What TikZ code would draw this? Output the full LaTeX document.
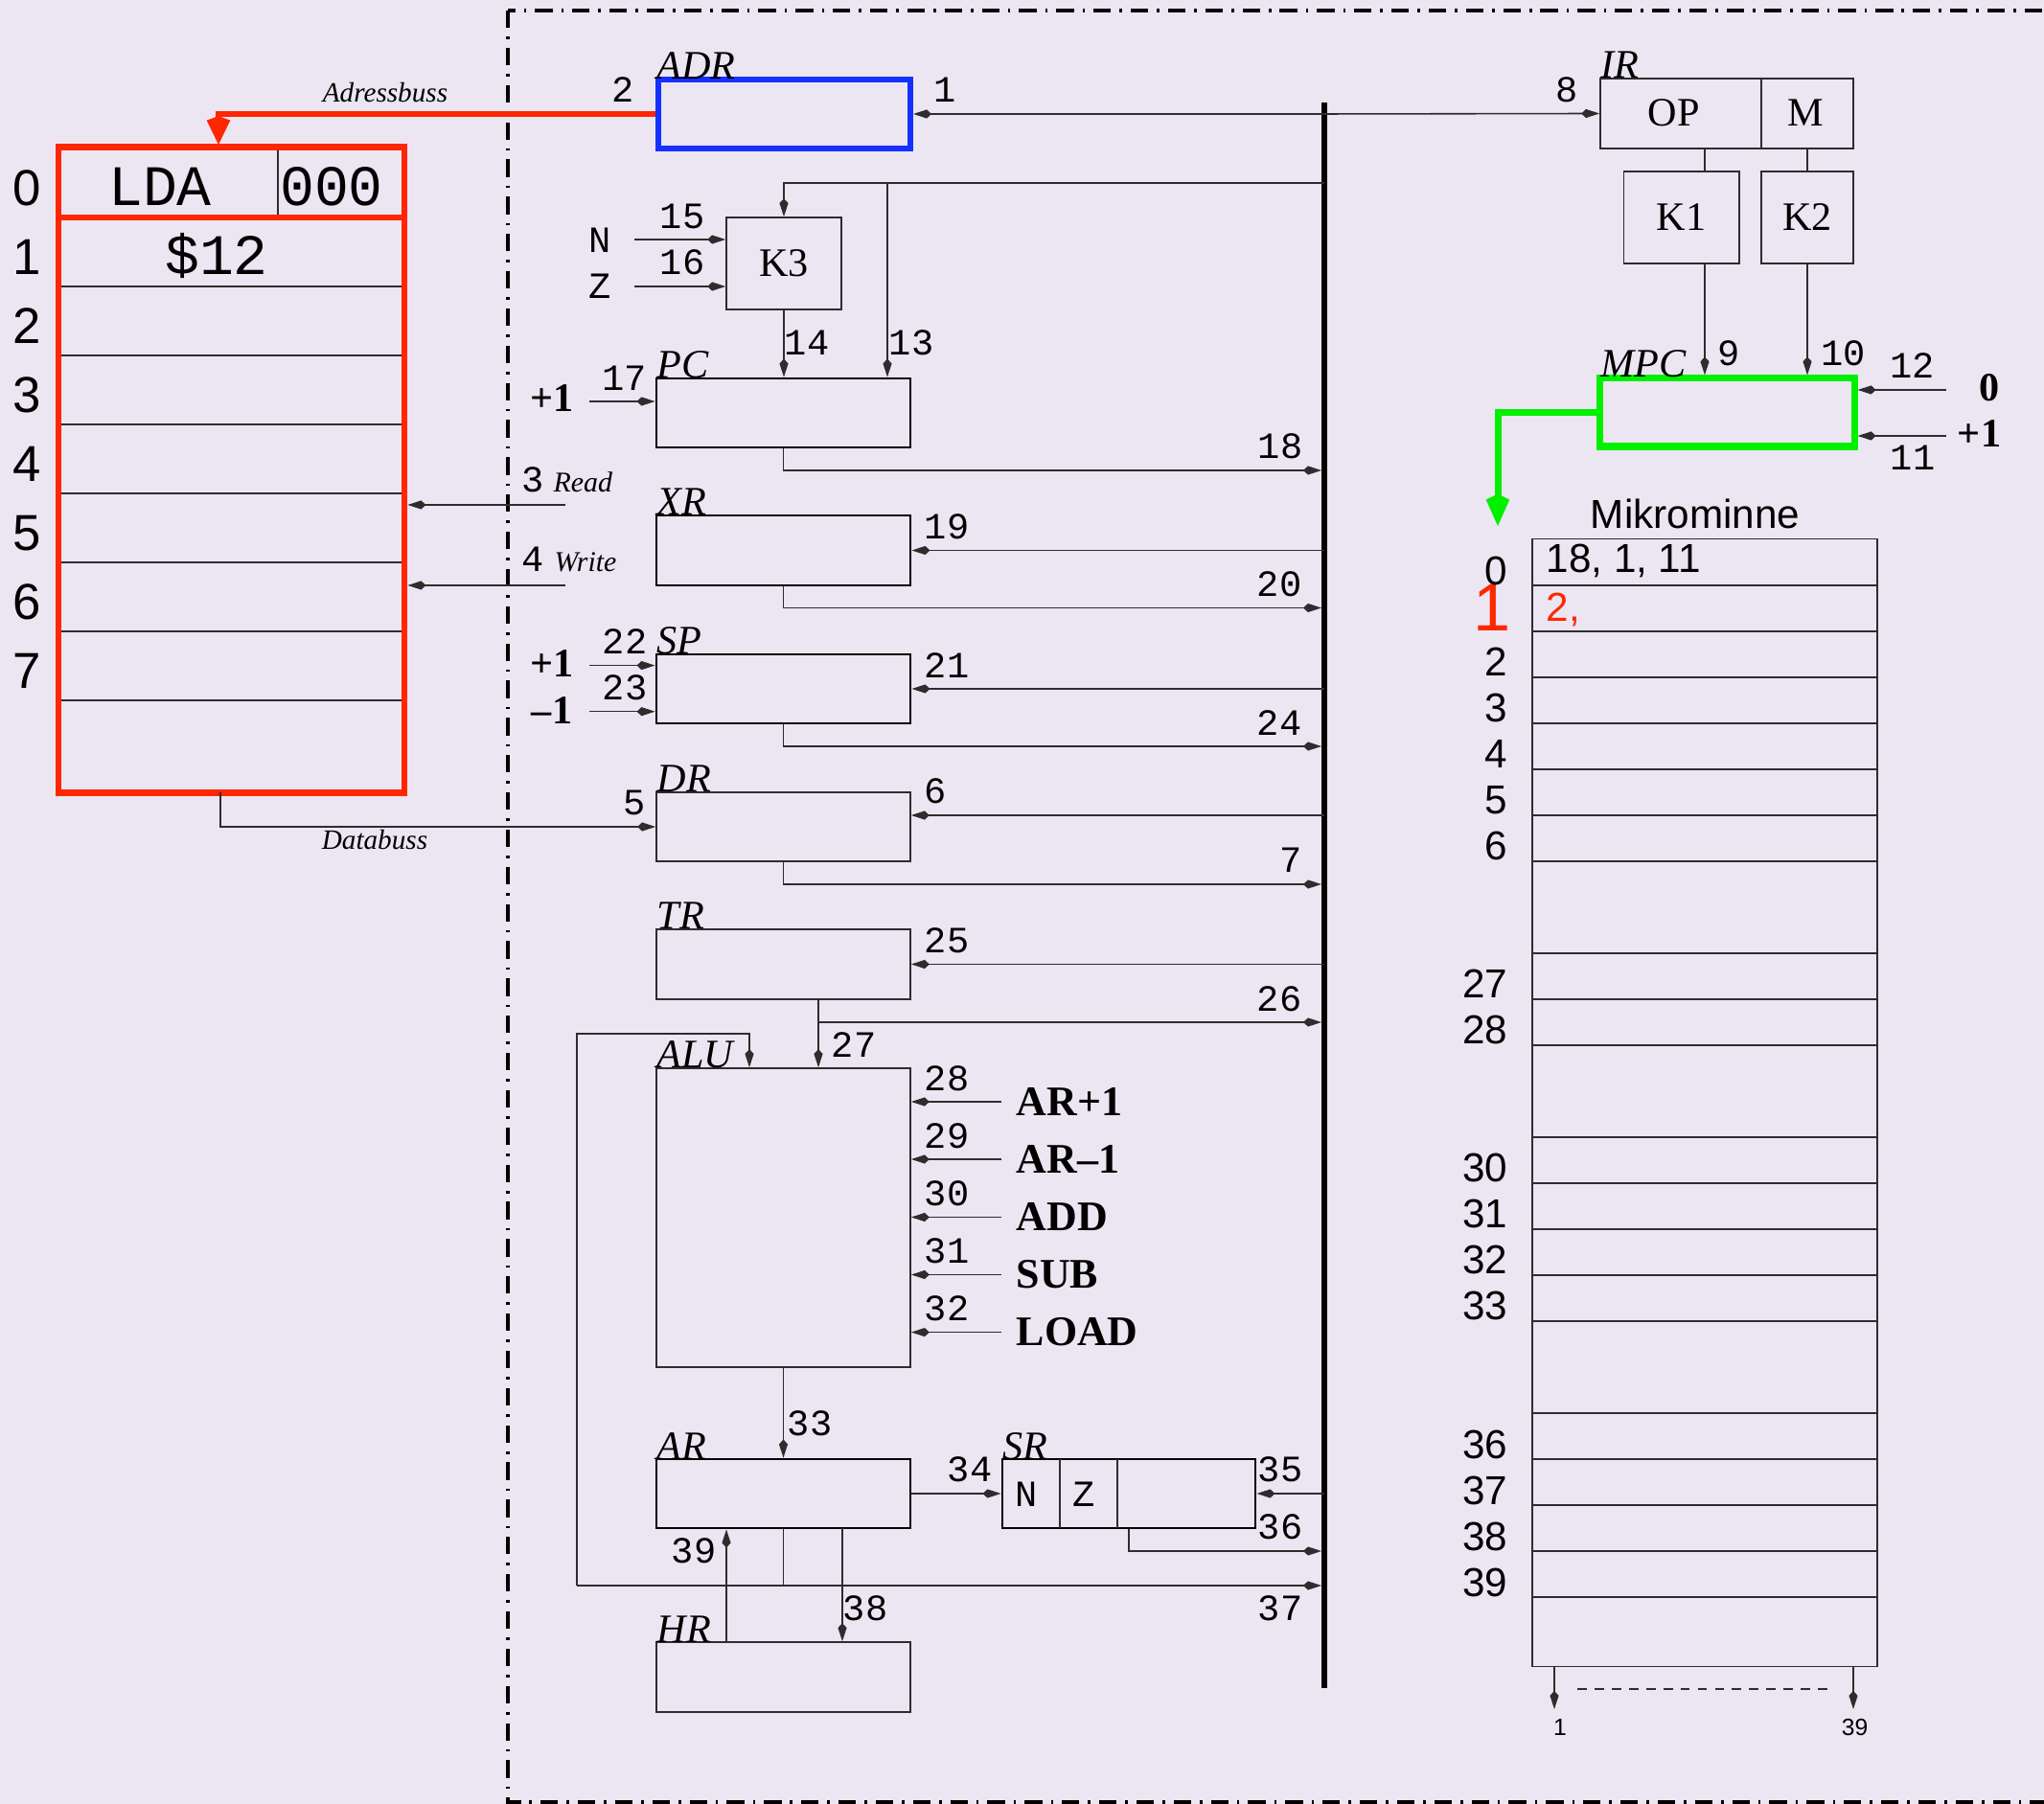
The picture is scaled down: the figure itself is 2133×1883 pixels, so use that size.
\documentclass[tikz,border=0pt]{standalone}
\usepackage{fontspec}
\setmainfont{Liberation Serif}
\setsansfont{Liberation Sans}
\setmonofont{Liberation Mono}
\usetikzlibrary{arrows.meta,calc}
\definecolor{bg}{RGB}{235,230,242}
\definecolor{rd}{RGB}{255,38,0}
\definecolor{bl}{RGB}{22,48,255}
\definecolor{gr}{RGB}{0,240,0}
\definecolor{lc}{RGB}{45,45,45}
\tikzset{
 ln/.style={draw=lc, line width=0.45pt},
 arr/.style={ln, -{Kite[length=5.4pt,width=2.6pt,inset=1.4pt]}},
 box/.style={ln, inner sep=0pt},
 tbox/.style={draw=black, line width=0.8pt, inner sep=0pt},
 num/.style={inner sep=0pt, font=\ttfamily\fontsize{11}{13}\selectfont},
 regname/.style={inner sep=0pt, anchor=base west, font=\itshape\fontsize{12}{14}\selectfont},
 bld/.style={inner sep=0pt, font=\bfseries\fontsize{12}{14}\selectfont},
 ctl/.style={inner sep=0pt, anchor=west, font=\bfseries\fontsize{12.5}{14}\selectfont},
 rom/.style={inner sep=0pt, font=\fontsize{12}{14}\selectfont},
 busname/.style={inner sep=0pt, anchor=base, font=\itshape\fontsize{8.3}{10}\selectfont},
 sig/.style={inner sep=0pt, anchor=base west, font=\itshape\fontsize{8.5}{10}\selectfont},
 memno/.style={inner sep=0pt, anchor=base, font=\sffamily\fontsize{15}{17}\selectfont},
 mmno/.style={inner sep=0pt, anchor=base east, font=\sffamily\fontsize{12}{14}\selectfont},
 memtxt/.style={inner sep=0pt, anchor=base, font=\ttfamily\fontsize{17}{19}\selectfont},
 frame/.style={draw=black, line width=1.22pt, dash pattern=on 5.2pt off 2.55pt on 0.75pt off 2.55pt},
}
\begin{document}
\begin{tikzpicture}[x=0.01cm,y=-0.01cm]
\fill[bg] (0,0) rectangle (2133,1883);
\clip (0,0) rectangle (2133,1883);

% frame
\draw[frame] (530,11) rectangle (2200,1881);

% ---------- main memory ----------
\foreach \y in {299,371,443,515,587,659,731} \draw[ln] (61,\y) -- (422,\y);
\draw[ln] (290,154) -- (290,227);
\draw[draw=rd, line width=1.9pt] (61,227) -- (422,227);
\node[draw=rd, line width=1.9pt, minimum width=3.61cm, minimum height=6.73cm, inner sep=0pt] (mem) at (241.5,490.5) {};
\foreach \i in {0,...,7} \node[memno] (ml\i) at (28,215+72*\i) {\i};
\node[memtxt] (lda) at (167,215) {LDA};
\node[memtxt] (adr0) at (346,215) {000};
\node[memtxt] (val1) at (226,287) {\$12};

% ---------- registers ----------
\node[draw=bl, line width=1.7pt, minimum width=2.63cm, minimum height=0.72cm, inner sep=0pt] (ADR) at (818.5,119) {};
\node[box, minimum width=1.2cm, minimum height=0.96cm, font=\fontsize{12}{14}\selectfont] (K3) at (818,275) {K3};
\node[tbox, minimum width=2.65cm, minimum height=0.72cm] (PC) at (817.5,431) {};
\node[tbox, minimum width=2.65cm, minimum height=0.73cm] (XR) at (817.5,574.5) {};
\node[tbox, minimum width=2.65cm, minimum height=0.72cm] (SP) at (817.5,719) {};
\node[box, minimum width=2.65cm, minimum height=0.72cm] (DR) at (817.5,863) {};
\node[box, minimum width=2.65cm, minimum height=0.73cm] (TR) at (817.5,1006.5) {};
\node[box, minimum width=2.65cm, minimum height=3.12cm] (ALU) at (817.5,1271) {};
\node[tbox, minimum width=2.65cm, minimum height=0.72cm] (AR) at (817.5,1559) {};
\node[tbox, minimum width=2.64cm, minimum height=0.72cm] (SR) at (1178,1559) {};
\node[box, minimum width=2.65cm, minimum height=0.73cm] (HR) at (817.5,1750.5) {};
\draw[ln] (1106,1523) -- (1106,1595);
\draw[ln] (1166,1523) -- (1166,1595);

\node[regname] (tADR) at (685,83) {ADR};
\node[regname] (tPC) at (685,395) {PC};
\node[regname] (tXR) at (685,538) {XR};
\node[regname] (tSP) at (685,683) {SP};
\node[regname] (tDR) at (685,827) {DR};
\node[regname] (tTR) at (685,970) {TR};
\node[regname] (tALU) at (685,1115) {ALU};
\node[regname] (tAR) at (685,1523) {AR};
\node[regname] (tSR) at (1046,1523) {SR};
\node[regname] (tHR) at (685,1714) {HR};

% ---------- IR / K1 / K2 / MPC ----------
\node[box, minimum width=2.64cm, minimum height=0.73cm] (IR) at (1802,118.5) {};
\draw[ln] (1838,82) -- (1838,155);
\node[rom] (op) at (1746.5,117.5) {OP};
\node[rom] (mm) at (1884,117.5) {M};
\node[box, minimum width=1.205cm, minimum height=0.96cm, font=\fontsize{12}{14}\selectfont] (K1) at (1754.75,227) {K1};
\node[box, minimum width=0.96cm, minimum height=0.96cm, font=\fontsize{12}{14}\selectfont] (K2) at (1886,227) {K2};
\node[draw=gr, line width=2pt, minimum width=2.65cm, minimum height=0.71cm, inner sep=0pt] (MPC) at (1802.5,430.5) {};
\node[regname] (tIR) at (1670,82) {IR};
\node[regname] (tMPC) at (1670,394) {MPC};

% ---------- micro memory ----------
\node[box, minimum width=3.6cm, minimum height=11.76cm] (MM) at (1779,1151) {};
\foreach \y in {611,659,707,755,803,851,899,995,1043,1091,1187,1235,1283,1331,1379,1475,1523,1571,1619,1667}
  \draw[ln] (1599,\y) -- (1959,\y);
\node[inner sep=0pt, font=\sffamily\fontsize{12}{14}\selectfont] (mmt) at (1769,536) {Mikrominne};
\node[inner sep=0pt, anchor=base west, font=\sffamily\fontsize{12}{14}\selectfont] (mm0) at (1613,598) {18, 1, 11};
\node[inner sep=0pt, anchor=base west, text=rd, font=\sffamily\fontsize{12}{14}\selectfont] (mm1) at (1613,649) {2,};
\node[inner sep=0pt, anchor=base east, text=rd, font=\sffamily\fontsize{20}{22}\selectfont] (mr1) at (1577,659) {1};
\foreach \n/\y in {0/611,2/706,3/754,4/802,5/850,6/898,27/1042,28/1090,30/1234,31/1282,32/1330,33/1378,36/1522,37/1570,38/1618,39/1666}
  \node[mmno] (mr\n) at (1574,\y) {\n};
\coordinate (mo1) at (1622,1784);
\coordinate (mo39) at (1934,1784);
\draw[arr] (mo1 |- MM.south) -- (mo1);
\draw[arr] (mo39 |- MM.south) -- (mo39);
\draw[ln, dash pattern=on 2.8pt off 2.3pt] (1646,1763) -- (1907,1763);
\node[inner sep=0pt, font=\sffamily\fontsize{7}{8}\selectfont] (mb1) at (1628,1803) {1};
\node[inner sep=0pt, font=\sffamily\fontsize{7}{8}\selectfont] (mb39) at (1935.6,1803) {39};

% ---------- bus ----------
\coordinate (busT) at (1382,107);
\coordinate (busB) at (1382,1762);
\draw[black, line width=1.8pt] (busT) -- (busB);
\coordinate (b1) at (1382,119);
\coordinate (b2) at (1382,191);
\coordinate (b18) at (1379,491);
\coordinate (b19) at (1382,574.5);
\coordinate (b20) at (1379,634.5);
\coordinate (b21) at (1382,719);
\coordinate (b24) at (1379,779);
\coordinate (b6) at (1382,851);
\coordinate (b7) at (1379,923);
\coordinate (b25) at (1382,1006.5);
\coordinate (b26) at (1379,1067);
\coordinate (b35) at (1382,1559);
\coordinate (b36) at (1379,1619);
\coordinate (b37) at (1379,1655);

% ---------- connectors ----------
\draw[arr] (b1) -- (ADR.east);
\draw[arr] (b1) -- (IR.west);
\draw[arr] (b2) -| (K3.north);
\coordinate (br13) at (926,191);
\draw[arr] (br13) -- (br13 |- PC.north);
\coordinate (nin) at (662,250);
\coordinate (zin) at (662,299);
\draw[arr] (nin) -- (nin -| K3.west);
\draw[arr] (zin) -- (zin -| K3.west);
\draw[arr] (K3.south) -- (K3.south |- PC.north);
\coordinate (in17) at (615,419);
\draw[arr] (in17) -- (in17 -| PC.west);
\draw[arr] (PC.south) |- (b18);
\draw[arr] (b19) -- (XR.east);
\draw[arr] (XR.south) |- (b20);
\coordinate (in22) at (615,694.6);
\coordinate (in23) at (615,742.7);
\draw[arr] (in22) -- (in22 -| SP.west);
\draw[arr] (in23) -- (in23 -| SP.west);
\draw[arr] (b21) -- (SP.east);
\draw[arr] (SP.south) |- (b24);
\coordinate (dbus) at (230,827);
\draw[arr] (dbus) |- (DR.west);
\draw[arr] (b6) -- (b6 -| DR.east);
\draw[arr] (DR.south) |- (b7);
\draw[arr] (b25) -- (TR.east);
\coordinate (tr27) at (854,1043);
\draw[arr] (tr27) -- (tr27 |- ALU.north);
\draw[arr] (tr27 |- b26) -- (b26);
\coordinate (lp1) at (602,1655);
\coordinate (lp2) at (782,1079);
\draw[arr] (lp1) |- (lp2) -- (lp2 |- ALU.north);
\foreach \y/\t/\n in {1150/AR+1/28,1210/AR--1/29,1270.5/ADD/30,1330.5/SUB/31,1390.6/LOAD/32}{
  \coordinate (ci\n) at (1045,\y);
  \draw[arr] (ci\n) -- (ci\n -| ALU.east);
  \node[ctl] (ct\n) at (1060,\y) {\t};
}
\draw[arr] (ALU.south) -- (AR.north);
\draw[arr] (AR.east) -- (SR.west);
\draw[arr] (b35) -- (SR.east);
\draw[arr] (SR.south) |- (b36);
\draw[arr] (lp1) -- (b37);
\draw[ln] (AR.south) -- (AR.south |- lp1);
\coordinate (ar38) at (879,1595);
\draw[arr] (ar38) -- (ar38 |- HR.north);
\coordinate (hr39) at (758,1714);
\draw[arr] (hr39) -- (hr39 |- AR.south);

% read / write
\coordinate (rdin) at (590,527);
\coordinate (wrin) at (590,611);
\draw[arr] (rdin) -- (rdin -| mem.east);
\draw[arr] (wrin) -- (wrin -| mem.east);

% IR decode
\coordinate (op1) at (1779,155);
\draw[ln] (op1) -- (op1 |- K1.north);
\draw[arr] (op1 |- K1.south) -- (op1 |- MPC.north);
\draw[ln] (K2.north |- IR.south) -- (K2.north);
\draw[arr] (K2.south) -- (K2.south |- MPC.north);
\coordinate (m12) at (2031,407);
\coordinate (m11) at (2031,455);
\draw[arr] (m12) -- (m12 -| MPC.east);
\draw[arr] (m11) -- (m11 -| MPC.east);

% coloured buses
\coordinate (rtip) at (228,151);
\draw[draw=rd, line width=1.9pt, -{Kite[length=8.5pt,width=7pt,inset=1.3pt]}] (ADR.west) -| (rtip);
\coordinate (gtip) at (1563,549);
\draw[draw=gr, line width=2pt, -{Kite[length=9.5pt,width=7pt,inset=1.7pt]}] (MPC.west) -| (gtip);

% ---------- labels ----------
\node[busname] (abus) at (402,107) {Adressbuss};
\node[busname] (dbusl) at (391,887) {Databuss};
\node[num, anchor=base] (n3) at (556,514) {3};
\node[sig] (read) at (577,514) {Read};
\node[num, anchor=base] (n4) at (556,597) {4};
\node[sig] (write) at (578,597) {Write};

\node[num] (n2) at (650,94) {2};
\node[num] (n1) at (986,94) {1};
\node[num] (n15) at (712,226) {15};
\node[num] (n16) at (712,274) {16};
\node[num] (nN) at (626.5,251) {N};
\node[num] (nZ) at (626.5,298.5) {Z};
\node[num] (n14) at (842,358) {14};
\node[num] (n13) at (951,358) {13};
\node[num] (n17) at (651.5,394.5) {17};
\node[num] (n18) at (1336,466) {18};
\node[num] (n19) at (988,550) {19};
\node[num] (n20) at (1335,610) {20};
\node[num] (n22) at (652,670) {22};
\node[num] (n23) at (652,718) {23};
\node[num] (n21) at (988,695) {21};
\node[num] (n24) at (1335,754.5) {24};
\node[num] (n5) at (662,838) {5};
\node[num] (n6) at (976,826) {6};
\node[num] (n7) at (1347,898) {7};
\node[num] (n25) at (988,982) {25};
\node[num] (n26) at (1335,1043) {26};
\node[num] (n27) at (891,1091) {27};
\node[num] (n28) at (988,1125.5) {28};
\node[num] (n29) at (988,1185.5) {29};
\node[num] (n30) at (988,1245.5) {30};
\node[num] (n31) at (988,1306) {31};
\node[num] (n32) at (988,1366) {32};
\node[num] (n33) at (845,1486) {33};
\node[num] (n34) at (1012,1533.5) {34};
\node[num] (n35) at (1336,1533.5) {35};
\node[num] (n36) at (1336,1594) {36};
\node[num] (n37) at (1336,1678.5) {37};
\node[num] (n38) at (903,1678.5) {38};
\node[num] (n39) at (724,1618.5) {39};
\node[num] (srN) at (1071,1560) {N};
\node[num] (srZ) at (1131,1560) {Z};
\node[num] (n8) at (1635.5,94) {8};
\node[num] (n9) at (1804.5,369) {9};
\node[num] (n10) at (1923.5,369) {10};
\node[num] (n12) at (1995.6,382) {12};
\node[num] (n11) at (1996,478) {11};

\node[bld] (pcp1) at (576,416) {+1};
\node[bld] (spp1) at (576,693) {+1};
\node[bld] (spm1) at (576,741.5) {--1};
\node[bld] (mpc0) at (2076.5,405) {0};
\node[bld] (mpcp1) at (2065.5,452.5) {+1};
\end{tikzpicture}
\end{document}
